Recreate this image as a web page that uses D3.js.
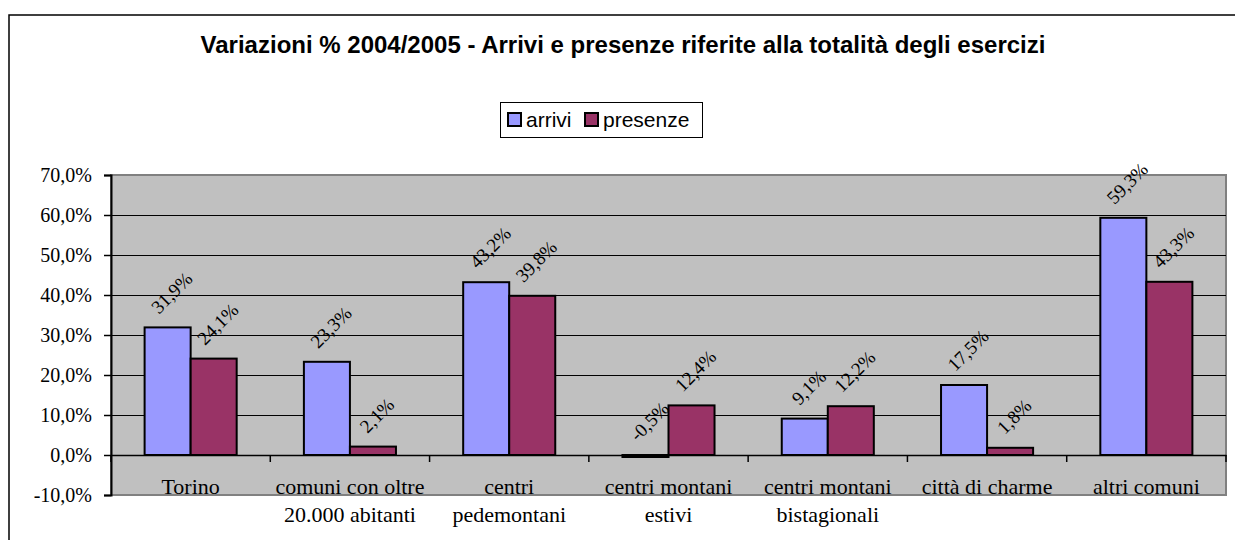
<!DOCTYPE html>
<html>
<head>
<meta charset="utf-8">
<script src="https://cdn.jsdelivr.net/npm/d3@7"></script>
<style>
  body { margin: 0; background: #fff; }
  svg { display: block; }
</style>
</head>
<body>
<script>
const categories = ["Torino", "comuni con oltre 20.000 abitanti", "centri pedemontani",
  "centri montani estivi", "centri montani bistagionali", "città di charme", "altri comuni"];
const categoryLines = [["Torino"], ["comuni con oltre", "20.000 abitanti"], ["centri", "pedemontani"],
  ["centri montani", "estivi"], ["centri montani", "bistagionali"], ["città di charme"], ["altri comuni"]];
const seriesNames = ["arrivi", "presenze"];
const arrivi = [31.9, 23.3, 43.2, -0.5, 9.1, 17.5, 59.3];
const presenze = [24.1, 2.1, 39.8, 12.4, 12.2, 1.8, 43.3];
const yTicks = [-10, 0, 10, 20, 30, 40, 50, 60, 70];
const colors = ["#9999FF", "#993366"];
const title = "Variazioni % 2004/2005 - Arrivi e presenze riferite alla totalità degli esercizi";

const width = 1235, height = 540;
const plot = { left: 111, right: 1226, top: 175, bottom: 495 };
const fmt = v => v.toFixed(1).replace(".", ",") + "%";
const serif = "'Times New Roman', 'Liberation Serif', serif";
const sans = "Arial, 'Liberation Sans', sans-serif";

const svg = d3.select("body").append("svg")
  .attr("width", width)
  .attr("height", height);

// outer chart frame (runs off the right and bottom of the picture)
svg.append("rect")
  .attr("x", 9).attr("y", 15)
  .attr("width", 1240).attr("height", 560)
  .attr("fill", "#fff")
  .attr("stroke", "#000")
  .attr("stroke-width", 1.5);

svg.append("text")
  .attr("x", 623).attr("y", 53)
  .attr("text-anchor", "middle")
  .style("font-family", sans)
  .style("font-weight", "bold")
  .style("font-size", "24px")
  .text(title);

const x = d3.scaleBand().domain(categories).range([plot.left, plot.right]).padding(0);
const groupW = x.bandwidth() * 0.578;
const xs = d3.scaleBand().domain(seriesNames).range([-groupW / 2, groupW / 2]);
const y = d3.scaleLinear().domain([-10, 70]).range([plot.bottom, plot.top]);

// plot area
svg.append("rect")
  .attr("x", plot.left).attr("y", plot.top)
  .attr("width", plot.right - plot.left).attr("height", plot.bottom - plot.top)
  .attr("fill", "#C0C0C0")
  .attr("stroke", "#808080")
  .attr("stroke-width", 2);

// gridlines
svg.append("g")
  .selectAll("line")
  .data(yTicks.filter(t => t > -10 && t < 70 && t !== 0))
  .join("line")
  .attr("x1", plot.left).attr("x2", plot.right)
  .attr("y1", d => y(d) + 0.5).attr("y2", d => y(d) + 0.5)
  .attr("stroke", "#000")
  .attr("stroke-width", 1);

// y axis
const yAxis = svg.append("g")
  .attr("transform", `translate(${plot.left},0)`)
  .call(d3.axisLeft(y).tickValues(yTicks).tickSize(7).tickPadding(12).tickFormat(fmt));
yAxis.select(".domain").attr("stroke", "#000").attr("stroke-width", 2);
yAxis.selectAll(".tick line").attr("stroke", "#000").attr("stroke-width", 1.5);
yAxis.selectAll(".tick text")
  .style("font-family", serif)
  .style("font-size", "20px")
  .attr("fill", "#000");

// bars
const rows = categories.map((c, i) => ({ cat: c, vals: [arrivi[i], presenze[i]] }));
const groups = svg.append("g").selectAll("g")
  .data(rows)
  .join("g")
  .attr("transform", d => `translate(${x(d.cat) + x.bandwidth() / 2},0)`);

groups.selectAll("rect")
  .data(d => d.vals.map((v, j) => ({ v, s: seriesNames[j], j })))
  .join("rect")
  .attr("x", d => xs(d.s))
  .attr("width", xs.bandwidth())
  .attr("y", d => y(Math.max(0, d.v)))
  .attr("height", d => Math.abs(y(d.v) - y(0)))
  .attr("fill", d => colors[d.j])
  .attr("stroke", "#000")
  .attr("stroke-width", 2);

// zero axis with category ticks
const xAxis = svg.append("g")
  .attr("transform", `translate(0,${y(0)})`)
  .call(d3.axisBottom(x).tickSize(0).tickFormat(""));
xAxis.select(".domain").attr("stroke", "#000").attr("stroke-width", 1.5);
svg.append("g")
  .selectAll("line")
  .data(categories.concat(["end"]))
  .join("line")
  .attr("x1", (d, i) => i < categories.length ? x(d) : plot.right)
  .attr("x2", (d, i) => i < categories.length ? x(d) : plot.right)
  .attr("y1", y(0)).attr("y2", y(0) + 7)
  .attr("stroke", "#000")
  .attr("stroke-width", 1.5);

// value labels, rotated
groups.selectAll("text.val")
  .data(d => d.vals.map((v, j) => ({ v, s: seriesNames[j] })))
  .join("text")
  .attr("class", "val")
  .attr("text-anchor", "middle")
  .attr("dominant-baseline", "central")
  .style("font-family", serif)
  .style("font-size", "19px")
  .text(d => fmt(d.v))
  .each(function (d) {
    const len = this.getComputedTextLength();
    const cx = xs(d.s) + xs.bandwidth() / 2 + 4;
    const cy = y(Math.max(0, d.v)) - 13 - (len + 12) * 0.707 / 2;
    d3.select(this).attr("transform", `translate(${cx},${cy}) rotate(-45)`);
  });

// category labels
svg.append("g").selectAll("text")
  .data(categories)
  .join("text")
  .attr("x", d => x(d) + x.bandwidth() / 2)
  .attr("y", 494)
  .attr("text-anchor", "middle")
  .style("font-family", serif)
  .style("font-size", "22px")
  .selectAll("tspan")
  .data((d, i) => categoryLines[i])
  .join("tspan")
  .attr("x", function () { return this.parentNode.getAttribute("x"); })
  .attr("dy", (d, i) => i === 0 ? 0 : 28)
  .text(d => d);

// legend
const legend = svg.append("g");
legend.append("rect")
  .attr("x", 500.5).attr("y", 102.5)
  .attr("width", 202).attr("height", 35)
  .attr("fill", "#fff")
  .attr("stroke", "#000")
  .attr("stroke-width", 1);
const legX = [508, 585];
seriesNames.forEach((s, i) => {
  legend.append("rect")
    .attr("x", legX[i]).attr("y", 113)
    .attr("width", 13).attr("height", 13)
    .attr("fill", colors[i])
    .attr("stroke", "#000")
    .attr("stroke-width", 2);
  legend.append("text")
    .attr("x", legX[i] + 18).attr("y", 127)
    .style("font-family", sans)
    .style("font-size", "21px")
    .text(s);
});
</script>
</body>
</html>
